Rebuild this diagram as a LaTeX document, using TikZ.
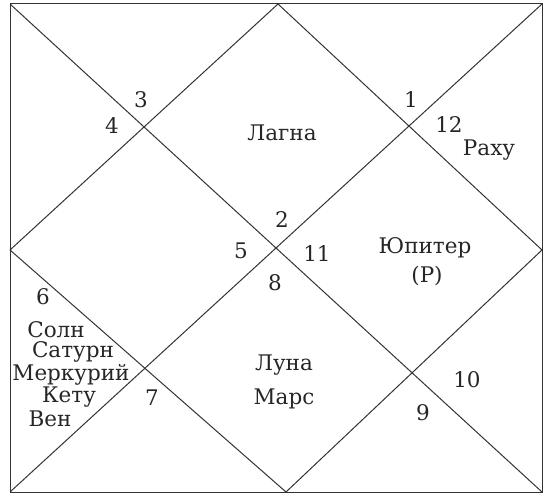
\documentclass[tikz,border=0pt]{standalone}
\usepackage{fontspec}
\setmainfont{DejaVu Serif}
\begin{document}
\begin{tikzpicture}[x=1pt,y=-1pt,
  chartline/.style={draw=black!80,line width=1pt},
  lbl/.style={inner sep=0pt,font=\fontsize{21.5}{24}\selectfont,text=black!85}]
\useasboundingbox (0,0) rectangle (544,495);
\coordinate (TL) at (10,4);
\coordinate (TR) at (542,4);
\coordinate (BR) at (542,492);
\coordinate (BL) at (10,492);
\coordinate (T) at (278,4);
\coordinate (R) at (542,250);
\coordinate (B) at (286,492);
\coordinate (L) at (10,250);
\draw[chartline] (TL) -- (TR) -- (BR) -- (BL) -- cycle;
\draw[chartline] (TL) -- (BR);
\draw[chartline] (TR) -- (BL);
\draw[chartline] (T) -- (R) -- (B) -- (L) -- cycle;
\node[lbl] (n3) at (141,100) {3};
\node[lbl] (n4) at (112,126) {4};
\node[lbl] (lagna) at (282,133) {Лагна};
\node[lbl] (n1) at (411,100) {1};
\node[lbl] (n12) at (449,125) {12};
\node[lbl] (rahu) at (489,150) {Раху};
\node[lbl] (n2) at (282,220) {2};
\node[lbl] (n5) at (241,251) {5};
\node[lbl] (n11) at (317,254) {11};
\node[lbl] (n8) at (275,283) {8};
\node[lbl] (jup) at (425,248) {Юпитер};
\node[lbl] (jupr) at (427,276) {(P)};
\node[lbl] (n6) at (43,297) {6};
\node[lbl] (sun) at (56,330) {Солн};
\node[lbl] (sat) at (73,352) {Сатурн};
\node[lbl] (mer) at (71,375) {Меркурий};
\node[lbl] (ket) at (69,397) {Кету};
\node[lbl] (ven) at (50,419) {Вен};
\node[lbl] (n7) at (152,398) {7};
\node[lbl] (moon) at (284,365) {Луна};
\node[lbl] (mars) at (284,399) {Марс};
\node[lbl] (n10) at (467,380) {10};
\node[lbl] (n9) at (423,413) {9};
\end{tikzpicture}
\end{document}
